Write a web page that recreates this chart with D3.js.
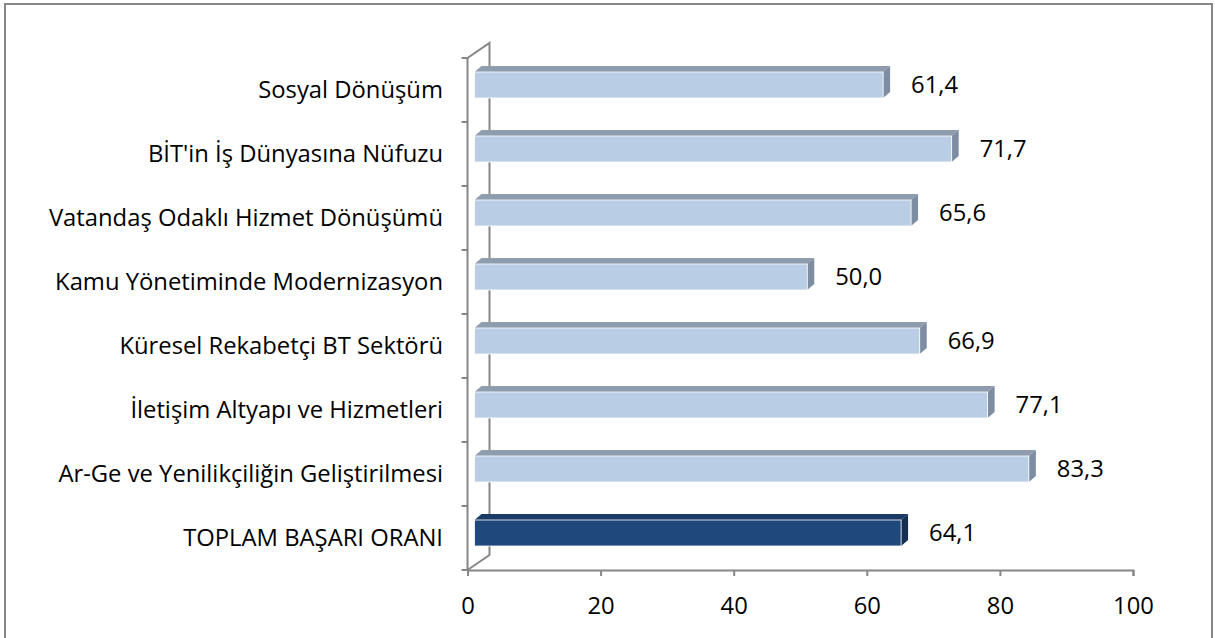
<!DOCTYPE html>
<html><head><meta charset="utf-8">
<script src="https://cdn.jsdelivr.net/npm/d3@7"></script>
<style>body{margin:0;background:#fff}svg{display:block}text{font-family:"Open Sans",sans-serif;fill:#000}</style>
</head><body>
<script>
const categories = ["Sosyal Dönüşüm","BİT'in İş Dünyasına Nüfuzu","Vatandaş Odaklı Hizmet Dönüşümü","Kamu Yönetiminde Modernizasyon","Küresel Rekabetçi BT Sektörü","İletişim Altyapı ve Hizmetleri","Ar-Ge ve Yenilikçiliğin Geliştirilmesi","TOPLAM BAŞARI ORANI"];
const values = [61.4,71.7,65.6,50.0,66.9,77.1,83.3,64.1];
const highlight = [false,false,false,false,false,false,false,true];
const xTicks = [0,20,40,60,80,100];

const W=1215,H=638, FS="23.8px";
const svg=d3.select("body").append("svg").attr("width",W).attr("height",H);
svg.append("rect").attr("x",5).attr("y",4).attr("width",1207).attr("height",H+10).attr("fill","#fff").attr("stroke","#868686").attr("stroke-width",2);

const x0=467.5, x1=1133, yTop=58, yBot=570, dX=22, dY=-15;
const x=d3.scaleLinear().domain([0,100]).range([x0,x1]);
const y=d3.scaleBand().domain(categories).range([yTop,yBot]);
const axisCol="#868686";
const g=svg.append("g");

g.append("path").attr("d",`M${x0},${yTop}L${x0+dX},${yTop+dY}L${x0+dX},${yBot+dY}L${x0},${yBot}`).attr("fill","none").attr("stroke",axisCol).attr("stroke-width",2);

g.append("line").attr("x1",x0).attr("x2",x0).attr("y1",yTop).attr("y2",yBot).attr("stroke",axisCol).attr("stroke-width",2);
const yt=categories.map(c=>y(c)).concat([yBot]);
g.selectAll(".yt").data(yt).join("line").attr("x1",x0-6).attr("x2",x0).attr("y1",d=>d).attr("y2",d=>d).attr("stroke",axisCol).attr("stroke-width",2);

const xa=svg.append("g").attr("transform",`translate(0,${yBot})`).call(d3.axisBottom(x).tickValues(xTicks).tickSize(6).tickPadding(21).tickFormat(d3.format("d")));
xa.select(".domain").attr("stroke",axisCol).attr("stroke-width",2);
xa.selectAll(".tick line").attr("stroke",axisCol).attr("stroke-width",2);
xa.selectAll(".tick text").style("font-size",FS).style("font-family","'Open Sans',sans-serif").attr("fill","#000");

const bx=7, bdx=7, bdy=-6, bh=26;
const data=categories.map((c,i)=>({c,v:values[i],h:highlight[i]}));
const bars=svg.append("g").selectAll("g").data(data).join("g");
bars.each(function(d){
  const s=d3.select(this);
  const left=x(0)+bx, right=x(d.v)+bx;
  const top=y(d.c)+y.bandwidth()/2-5-bh/2, bot=top+bh;
  const front=d.h?"#1f497d":"#b9cde5";
  const topc=d.h?"#1b3b66":"#8e9cae";
  const side=d.h?"#142f52":"#7d8da2";
  s.append("path").attr("d",`M${left},${top}L${left+bdx},${top+bdy}L${right+bdx},${top+bdy}L${right},${top}Z`).attr("fill",topc);
  s.append("path").attr("d",`M${right},${top}L${right+bdx},${top+bdy}L${right+bdx},${bot+bdy}L${right},${bot}Z`).attr("fill",side);
  s.append("rect").attr("x",left).attr("y",top).attr("width",right-left).attr("height",bh).attr("fill",front).attr("stroke","#fff").attr("stroke-width",0.8);
  s.append("text").attr("x",right+28).attr("y",top+bh/2).attr("dy","0.35em").style("font-size",FS).text(d3.format(".1f")(d.v).replace(".",","));
});

svg.append("g").selectAll("text").data(categories).join("text")
  .attr("x",443).attr("y",d=>y(d)+y.bandwidth()/2).attr("dy","0.35em").attr("text-anchor","end").style("font-size",FS).text(d=>d);
</script>
</body></html>
